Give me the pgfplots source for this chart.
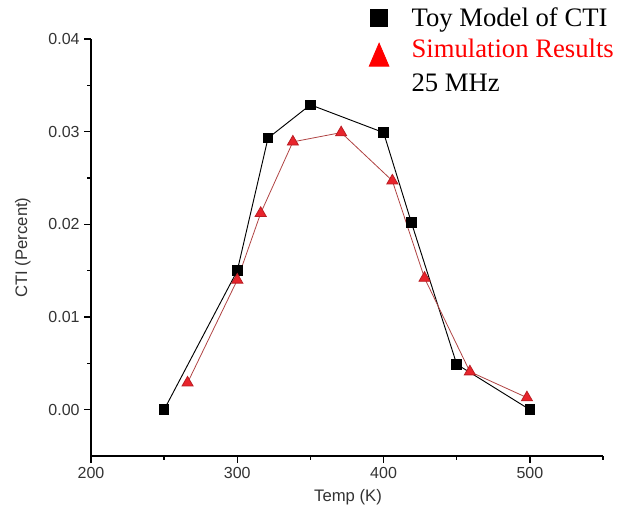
\documentclass[border=0pt]{standalone}
\usepackage{fontspec}
\setmainfont{Liberation Serif}
\newfontfamily\arial{Liberation Sans}
\usepackage{pgfplots}
\pgfplotsset{compat=1.18}
\definecolor{tickgray}{HTML}{333333}
\definecolor{simline}{HTML}{B04444}
\definecolor{simfill}{HTML}{E8242C}
\begin{document}
\begin{tikzpicture}
\begin{axis}[
  at={(68.25pt,50.25pt)}, anchor=south west,
  scale only axis, width=384pt, height=312.75pt,
  xmin=200, xmax=550, ymin=-0.005, ymax=0.04,
  axis lines=left, axis line style={line width=1.1pt, -},
  xtick={200,300,400,500}, minor xtick={250,350,450,550},
  ytick={0,0.01,0.02,0.03,0.04}, minor ytick={0.005,0.015,0.025,0.035},
  tick align=outside, major tick length=5pt, minor tick length=3pt,
  tick style={line width=1pt, black},
  scaled y ticks=false,
  yticklabel style={/pgf/number format/fixed,/pgf/number format/fixed zerofill,/pgf/number format/precision=2},
  ticklabel style={font=\arial\fontsize{12pt}{14pt}\selectfont, text=tickgray},
  /pgf/number format/assume math mode=true,
  xlabel={Temp (K)}, ylabel={CTI (Percent)},
  label style={font=\arial\fontsize{12.5pt}{15pt}\selectfont, text=tickgray},
  xlabel style={at={(axis description cs:0.502,-0.098)}, anchor=center},
  ylabel style={at={(axis description cs:-0.133,0.5)}, anchor=center},
  clip=false,
  legend cell align=left,
  legend style={draw=none, fill=none, at={(axis description cs:0.53,1.085)}, anchor=north west,
    font=\fontsize{20pt}{24pt}\selectfont, row sep=4pt, inner sep=1pt},
  legend image code/.code={%
    \path (0pt,0pt) (33pt,0pt);
    \draw[#1] plot[only marks] coordinates {(11pt,0pt)};},
]
\addplot[black, line width=0.7pt, mark=square*, mark size=3.6pt, mark options={solid, fill=black},
  legend image post style={mark size=6.3pt}]
  coordinates {(250,0) (300,0.0150) (321,0.0293) (350,0.0329) (400,0.0299) (419,0.0202) (450,0.0049) (500,0)};
\addlegendentry{Toy Model of CTI}
\addplot[simline, line width=0.6pt, mark=triangle*, mark size=4.8pt, mark options={solid, fill=simfill, draw=simfill!80!black},
  legend image post style={mark size=8.5pt, mark options={solid, fill=red, draw=red, yscale=1.35, yshift=-5pt}}]
  coordinates {(266,0.0029) (300,0.0140) (316,0.0212) (338,0.0289) (371,0.0299) (406,0.0247) (428,0.0142) (459,0.0041) (498,0.0013)};
\addlegendentry{\textcolor{red}{Simulation Results}}
\addlegendimage{empty legend}
\addlegendentry{25 MHz}
\end{axis}
\pgfresetboundingbox
\path[use as bounding box] (0,0) rectangle (467.25pt,392.25pt);
\end{tikzpicture}
\end{document}
